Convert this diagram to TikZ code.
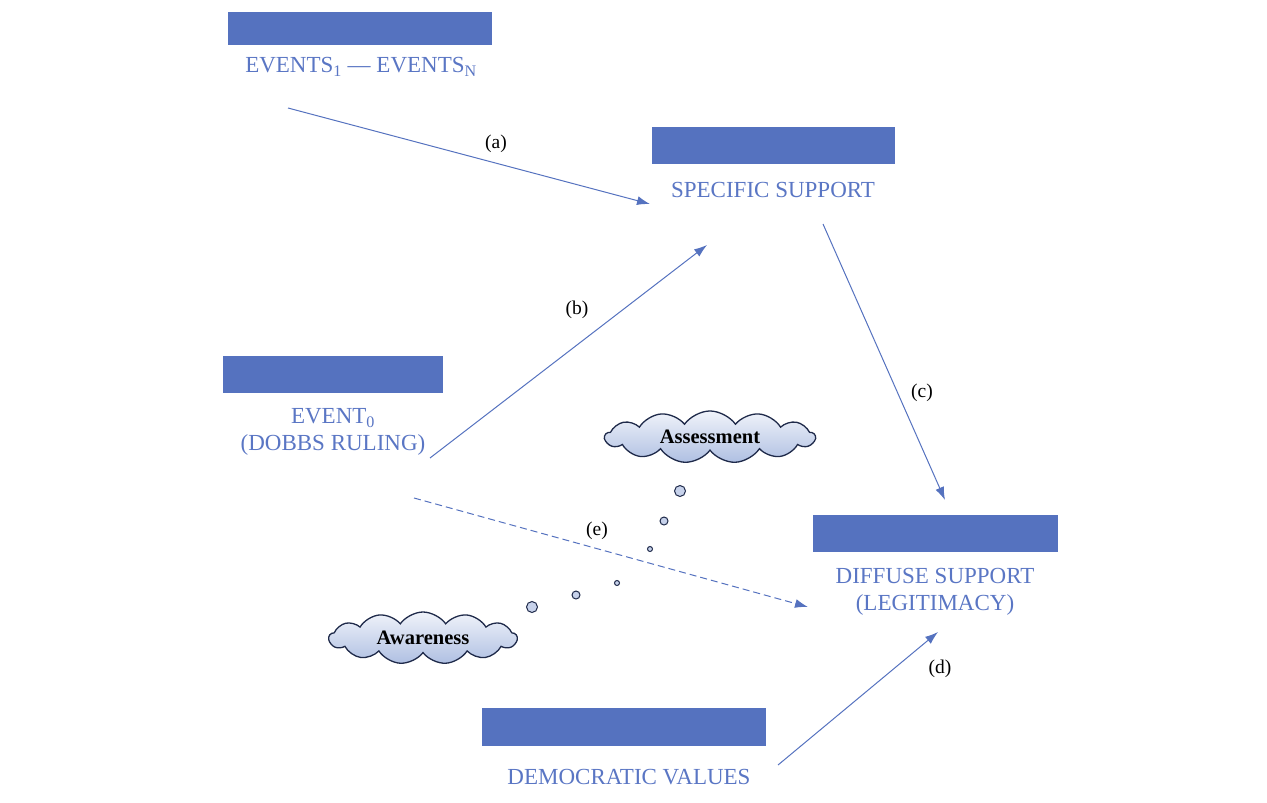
\documentclass[tikz,border=0pt]{standalone}
\usepackage{fontspec}
\setmainfont{Liberation Serif}
\usetikzlibrary{arrows.meta,shapes.symbols}
\definecolor{boxblue}{HTML}{5572BF}
\definecolor{txtblue}{HTML}{5A76C4}
\definecolor{cloudedge}{HTML}{1F2A4A}
\definecolor{cloudtop}{HTML}{F0F3FA}
\definecolor{cloudbot}{HTML}{AFBFE2}
\tikzset{
  bar/.style={fill=boxblue,draw=none,anchor=north west},
  lbl/.style={text=txtblue,font=\fontsize{23}{27}\selectfont,align=center,inner sep=0pt},
  conn/.style={draw=boxblue,line width=1pt,-{Latex[length=13pt,width=9pt]}},
  tag/.style={font=\fontsize{19.5}{23}\selectfont,inner sep=0pt},
  thought/.style={cloud,cloud puffs=13,cloud puff arc=110,aspect=4,draw=cloudedge,line width=1.3pt,top color=cloudtop,bottom color=cloudbot,font=\bfseries\fontsize{20.5}{24}\selectfont,inner sep=0pt},
  bubble/.style={circle,draw=cloudedge,line width=1pt,fill=cloudbot!70,inner sep=0pt}
}
\begin{document}
\begin{tikzpicture}[x=1pt,y=-1pt]
\useasboundingbox (0,0) rectangle (1267,803);
% bars
\path[bar] (228,12) rectangle (492,45);
\path[bar] (652,127) rectangle (895,164);
\path[bar] (223,356) rectangle (443,393);
\path[bar] (813,515) rectangle (1058,552);
\path[bar] (482,708) rectangle (766,746);
% labels
\node[lbl] (ev) at (361,67) {EVENTS\textsubscript{1} — EVENTS\textsubscript{N}};
\node[lbl] (spec) at (773,190) {SPECIFIC SUPPORT};
\node[lbl] (ev0) at (333,432) {EVENT\textsubscript{0}\\(DOBBS RULING)};
\node[lbl] (diff) at (935,592) {DIFFUSE SUPPORT\\(LEGITIMACY)};
\node[lbl] (dem) at (629,777) {DEMOCRATIC VALUES};
% connector endpoints
\coordinate (a1) at (288,108); \coordinate (a2) at (650,204);
\coordinate (b1) at (430,458); \coordinate (b2) at (707,245);
\coordinate (c1) at (823,224); \coordinate (c2) at (945,500);
\coordinate (d1) at (778,765); \coordinate (d2) at (938,632);
\coordinate (e1) at (414,498); \coordinate (e2) at (808,607);
\draw[conn] (a1) -- (a2);
\draw[conn] (b1) -- (b2);
\draw[conn] (c1) -- (c2);
\draw[conn] (d1) -- (d2);
\draw[conn,dash pattern=on 7pt off 4pt] (e1) -- (e2);
\node[tag] (ta) at (496,144) {(a)};
\node[tag] (tb) at (577,310) {(b)};
\node[tag] (tc) at (922,393) {(c)};
\node[tag] (td) at (940,669) {(d)};
\node[tag] (te) at (597,531) {(e)};
% clouds
\node[thought,minimum width=210pt,minimum height=52pt] (assess) at (710,437) {Assessment};
\node[thought,minimum width=188pt,minimum height=52pt] (aware) at (423,638) {Awareness};
\node[bubble,minimum size=11pt] (p1) at (680,491) {};
\node[bubble,minimum size=8pt] (p2) at (664,521) {};
\node[bubble,minimum size=5pt] (p3) at (650,549) {};
\node[bubble,minimum size=11pt] (q1) at (532,607) {};
\node[bubble,minimum size=8pt] (q2) at (576,595) {};
\node[bubble,minimum size=5pt] (q3) at (617,583) {};
\end{tikzpicture}
\end{document}
